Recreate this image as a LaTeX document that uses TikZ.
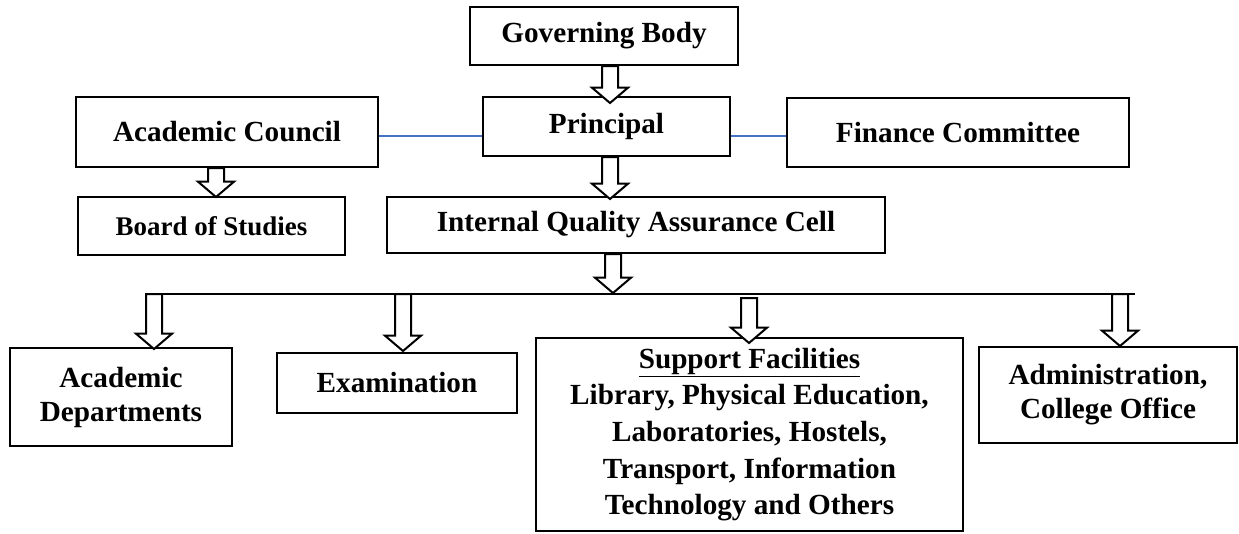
\documentclass[tikz,border=0pt]{standalone}
\usepackage{fontspec}
\setmainfont{Liberation Serif}
\usetikzlibrary{calc}

\definecolor{tieblue}{RGB}{68,114,196}

\tikzset{
  orgbox/.style={draw, line width=1.5pt, inner sep=0pt, align=center,
    font=\bfseries\fontsize{21.9}{25.5}\selectfont},
  blockarrow/.style={draw, line width=1.5pt, fill=white},
  tieline/.style={draw=tieblue, line width=1.5pt},
}

% hollow arrow: shaft starts at the height of #1, tip at #2
\newcommand{\hollowarrow}[2]{%
  \path[blockarrow] let \p1=(#1), \p2=(#2) in
    (\x2-6pt,\y1) -- (\x2-6pt,\y2-11.5pt) -- (\x2-13.5pt,\y2-11.5pt) -- (\x2,\y2)
    -- (\x2+13.5pt,\y2-11.5pt) -- (\x2+6pt,\y2-11.5pt) -- (\x2+6pt,\y1) -- cycle;}

\begin{document}
\begin{tikzpicture}[x=0.75pt,y=0.75pt,yscale=-1,xscale=1]
\useasboundingbox (0,0) rectangle (1239,533);

% Rectangles
\node[orgbox, minimum width=201pt, minimum height=43.5pt] (gov) at (604,36) {Governing Body};
\node[orgbox, minimum width=185.25pt, minimum height=44.25pt] (prin) at (606.5,126.5) {Principal};
\node[orgbox, minimum width=226.5pt, minimum height=52.5pt] (acc) at (227,132) {Academic Council};
\node[orgbox, minimum width=256.5pt, minimum height=51.75pt] (fin) at (958,132.5) {Finance Committee};
\node[orgbox, minimum width=200.25pt, minimum height=43.5pt, font=\bfseries\fontsize{20.2}{24}\selectfont] (bos) at (211.5,226) {Board of Studies};
\node[orgbox, minimum width=373.5pt, minimum height=42pt] (iqac) at (636,225) {Internal Quality Assurance Cell};
\node[orgbox, minimum width=166.5pt, minimum height=73.5pt] (dept) at (121,397) {Academic\\Departments};
\node[orgbox, minimum width=180pt, minimum height=45pt] (exam) at (397,383) {Examination};
\node[orgbox, minimum width=320.25pt, minimum height=144.75pt, font=\bfseries\fontsize{21.9}{27.5}\selectfont] (supp) at (749.5,434.5) {\underline{Support Facilities}\\Library, Physical Education,\\Laboratories, Hostels,\\Transport, Information\\Technology and Others};
\node[orgbox, minimum width=193.5pt, minimum height=72pt] (admin) at (1108,395) {Administration,\\College Office};

% Straight Lines
\coordinate (tieY) at (0,136);
\draw[tieline] (acc.east |- tieY) -- (prin.west |- tieY);
\draw[tieline] (prin.east |- tieY) -- (fin.west |- tieY);

% distribution bar
\coordinate (barL) at (146,294);
\coordinate (barR) at (1135,294);
\draw[line width=1.5pt] (barL) -- (barR);

% arrow tips
\coordinate (tipPrin) at (610,103);
\coordinate (tipIqac) at (610,199);
\coordinate (tipBos) at (216,197);
\coordinate (tipBar) at (613,293);
\coordinate (tipDept) at (154,349);
\coordinate (tipExam) at (403,351);
\coordinate (tipSupp) at (749,343);
\coordinate (tipAdmin) at (1120,346);
\coordinate (suppTop) at (749,298);

% Block Arrows
\hollowarrow{gov.south}{tipPrin}
\hollowarrow{prin.south}{tipIqac}
\hollowarrow{acc.south}{tipBos}
\hollowarrow{iqac.south}{tipBar}
\hollowarrow{barL}{tipDept}
\hollowarrow{barL}{tipExam}
\hollowarrow{suppTop}{tipSupp}
\hollowarrow{barR}{tipAdmin}

\end{tikzpicture}
\end{document}
